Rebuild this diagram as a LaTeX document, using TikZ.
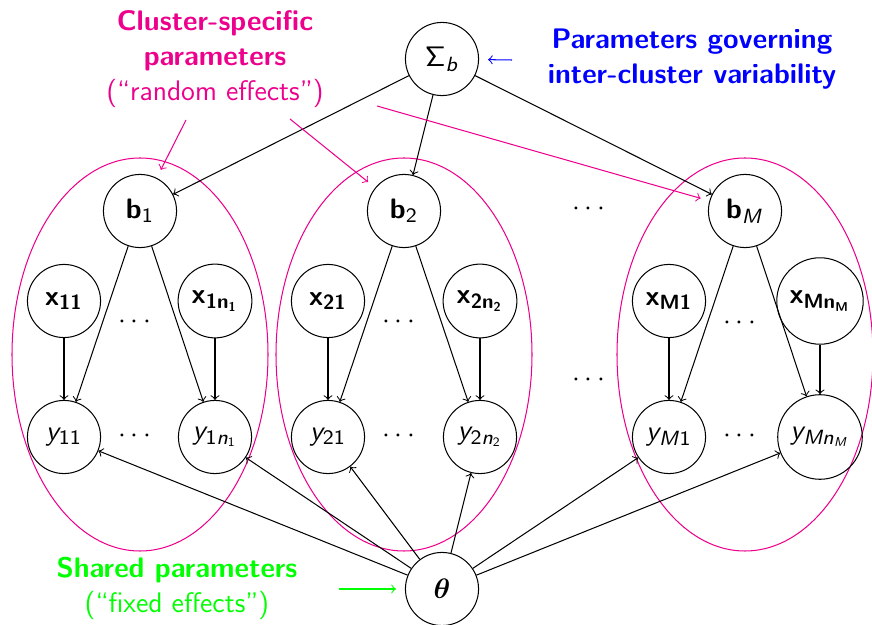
\documentclass[tikz,border=0pt]{standalone}
\usepackage{amsmath}
\usepackage{bm}

\DeclareMathAlphabet{\mathsfsl}{OT1}{cmss}{m}{sl}
\DeclareMathAlphabet{\mathsfbf}{OT1}{cmss}{bx}{n}

\definecolor{clustpink}{RGB}{236,0,140}
\definecolor{govblue}{RGB}{0,0,255}
\definecolor{sharedgreen}{RGB}{0,255,0}

\begin{document}
\begin{tikzpicture}[x=0.389pt, y=-0.389pt,
    every node/.style={font=\sffamily\fontsize{11}{13.6}\selectfont}]

    \tikzset{var/.style={%
      draw,%
      circle,%
      minimum size=1cm,%
      inner sep=0.3333em}%
    };
    \tikzset{clust/.style={%
      draw=clustpink,%
      thin}%
    };
    \tikzset{annot/.style={%
      ->,%
      shorten >=3.5pt}%
    };
    \tikzset{label/.style={%
      align=center,%
      anchor=north,%
      inner sep=0pt}%
    };

    \useasboundingbox (0, 0) rectangle (872, 625);

    %%%%%%%%%%%%
    % clusters %
    %%%%%%%%%%%%
    \draw [clust] (140, 354.5) ellipse [x radius=128, y radius=196.5];
    \draw [clust] (404, 354.5) ellipse [x radius=128, y radius=196.5];
    \draw [clust] (745, 354.5) ellipse [x radius=128, y radius=196.5];

    %%%%%%%%%%%%%
    % variables %
    %%%%%%%%%%%%%
    \node [var] (sigma) at (442, 59) {$\mathsf{\Sigma}_{\mathsfsl{b}}$};

    \node [var] (b1) at (140, 211) {$\mathsfbf{b}_{\mathsf{1}}$};
    \node [var] (b2) at (404, 211) {$\mathsfbf{b}_{\mathsf{2}}$};
    \node [var] (bM) at (745, 211) {$\mathsfbf{b}_{\mathsfsl{M}}$};

    \node [var] (x11) at (64, 301) {$\mathsfbf{x}_{\mathsfbf{11}}$};
    \node [var] (x1n) at (215, 301) {$\mathsfbf{x}_{\mathsfbf{1n}_{\mathsfbf{1}}}$};
    \node [var] (y11) at (64, 437) {$\mathsfsl{y}_{\mathsf{11}}$};
    \node [var] (y1n) at (215, 437) {$\mathsfsl{y}_{\mathsf{1}\mathsfsl{n}_{\mathsf{1}}}$};

    \node [var] (x21) at (328, 301) {$\mathsfbf{x}_{\mathsfbf{21}}$};
    \node [var] (x2n) at (480, 301) {$\mathsfbf{x}_{\mathsfbf{2n}_{\mathsfbf{2}}}$};
    \node [var] (y21) at (328, 437) {$\mathsfsl{y}_{\mathsf{21}}$};
    \node [var] (y2n) at (480, 437) {$\mathsfsl{y}_{\mathsf{2}\mathsfsl{n}_{\mathsf{2}}}$};

    \node [var] (xM1) at (669, 301) {$\mathsfbf{x}_{\mathsfbf{M1}}$};
    \node [var] (xMn) at (820, 301) {$\mathsfbf{x}_{\mathsfbf{Mn}_{\mathsfbf{M}}}$};
    \node [var] (yM1) at (669, 437) {$\mathsfsl{y}_{\mathsfsl{M}\mathsf{1}}$};
    \node [var] (yMn) at (820, 437) {$\mathsfsl{y}_{\mathsfsl{Mn}_{\mathsfsl{M}}}$};

    \node [var] (theta) at (442, 589) {$\bm{\theta}$};

    % dots
    \node (dx1) at (137, 322) {$\cdots$};
    \node (dy1) at (137, 436) {$\cdots$};
    \node (dx2) at (401, 322) {$\cdots$};
    \node (dy2) at (401, 436) {$\cdots$};
    \node (dxM) at (742, 323) {$\cdots$};
    \node (dyM) at (742, 436) {$\cdots$};
    \node (db) at (591, 209) {$\cdots$};
    \node (dmid) at (591, 380) {$\cdots$};

    \draw [->] (sigma) -- (b1);
    \draw [->] (sigma) -- (b2);
    \draw [->] (sigma) -- (bM);

    \draw [->] (b1) -- (y11);
    \draw [->] (b1) -- (y1n);
    \draw [->] (x11) -- (y11);
    \draw [->] (x1n) -- (y1n);

    \draw [->] (b2) -- (y21);
    \draw [->] (b2) -- (y2n);
    \draw [->] (x21) -- (y21);
    \draw [->] (x2n) -- (y2n);

    \draw [->] (bM) -- (yM1);
    \draw [->] (bM) -- (yMn);
    \draw [->] (xM1) -- (yM1);
    \draw [->] (xMn) -- (yMn);

    \draw [->] (theta) -- (y11);
    \draw [->] (theta) -- (y1n);
    \draw [->] (theta) -- (y21);
    \draw [->] (theta) -- (y2n);
    \draw [->] (theta) -- (yM1);
    \draw [->] (theta) -- (yMn);

    %%%%%%%%%%%%%%%
    % annotations %
    %%%%%%%%%%%%%%%
    \node [label, text=clustpink] (randlbl) at (215, 10) {%
      \textbf{Cluster-specific}\\ \textbf{parameters}\\ (“random effects”)};
    \node [label, text=govblue] (govlbl) at (692, 28) {%
      \textbf{Parameters governing}\\ \textbf{inter-cluster variability}};
    \node [label, text=sharedgreen] (fixlbl) at (177, 557) {%
      \textbf{Shared parameters}\\ (“fixed effects”)};

    \coordinate (randA) at (186, 120);
    \coordinate (randB) at (290, 119);
    \coordinate (randC) at (377, 106);
    \coordinate (govA) at (512, 60);
    \coordinate (fixA) at (339, 589);

    \draw [annot, clustpink] (randA) -- (b1);
    \draw [annot, clustpink] (randB) -- (b2);
    \draw [annot, clustpink] (randC) -- (bM);
    \draw [annot, govblue] (govA) -- (sigma);
    \draw [annot, sharedgreen] (fixA) -- (theta);

  \end{tikzpicture}
\end{document}
